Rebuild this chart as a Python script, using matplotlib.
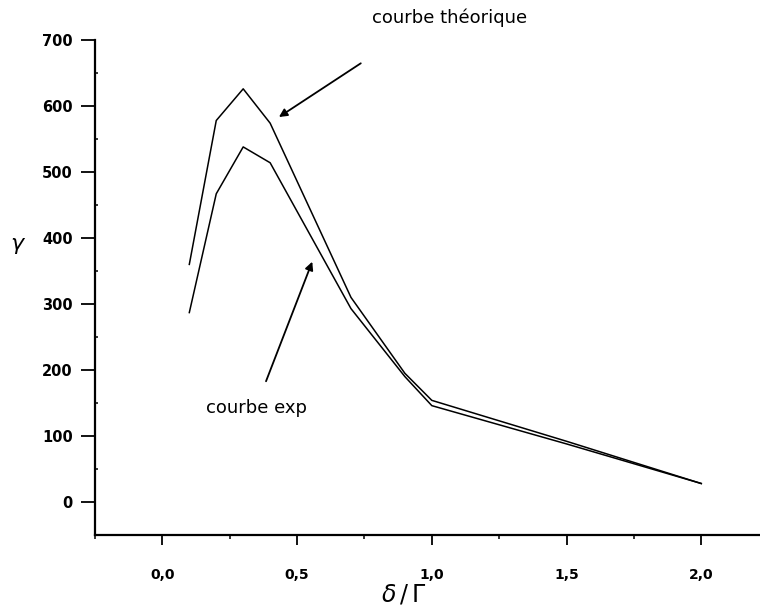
import matplotlib.pyplot as plt
from matplotlib.ticker import MultipleLocator, FuncFormatter

plt.rcParams['font.family'] = ['DejaVu Sans']

# delta/Gamma values and gain
delta = [0.1, 0.2, 0.3, 0.4, 0.7, 0.9, 1.0, 1.5, 2.0]
gamma_theo = [360, 578, 626, 574, 310, 195, 154, 92, 28]
gamma_exp = [287, 467, 538, 514, 293, 190, 146, 88, 28]

W, H = 760, 612
fig = plt.figure(figsize=(W / 100, H / 100), dpi=100)
ax = fig.add_axes([95 / W, (H - 535) / H, 1 - 95 / W, (535 - 40) / H])

ax.plot(delta, gamma_theo, color='black', lw=1.1)
ax.plot(delta, gamma_exp, color='black', lw=1.1)

ax.set_xlim(-0.25, 2.218)
ax.set_ylim(-50, 700)

for s in ['top', 'right']:
    ax.spines[s].set_visible(False)
for s in ['left', 'bottom']:
    ax.spines[s].set_linewidth(1.6)

ax.xaxis.set_major_locator(MultipleLocator(0.5))
ax.xaxis.set_minor_locator(MultipleLocator(0.25))
ax.yaxis.set_major_locator(MultipleLocator(100))
ax.yaxis.set_minor_locator(MultipleLocator(50))
ax.xaxis.set_major_formatter(FuncFormatter(lambda v, p: f'{v:.1f}'.replace('.', ',')))

ax.tick_params(axis='x', which='major', length=7, width=1.3, pad=17, labelsize=10)
ax.tick_params(axis='x', which='minor', length=3, width=1.1)
ax.tick_params(axis='y', which='major', length=10, width=1.3, pad=6, labelsize=10.5)
ax.tick_params(axis='y', which='minor', length=2, width=1.1, direction='in')
for lab in ax.get_xticklabels() + ax.get_yticklabels():
    lab.set_fontweight('bold')

fig.text(18 / W, 1 - 246 / H, r'$\gamma$', fontsize=16, ha='center', va='center')
fig.text(404 / W, 1 - 595 / H, r'$\delta\,/\,\Gamma$', fontsize=17, ha='center', va='center')

ax.annotate('', xy=(0.424, 581), xytext=(0.745, 667),
            arrowprops=dict(arrowstyle='-|>', color='black', lw=1.3, mutation_scale=12))
ax.annotate('', xy=(0.56, 368), xytext=(0.381, 179),
            arrowprops=dict(arrowstyle='-|>', color='black', lw=1.3, mutation_scale=12))
fig.text(450 / W, 1 - 18 / H, 'courbe théorique', fontsize=13, ha='center', va='center')
ax.text(0.348, 143, 'courbe exp', fontsize=13, ha='center', va='center')

fig.savefig('out.png', dpi=100)
